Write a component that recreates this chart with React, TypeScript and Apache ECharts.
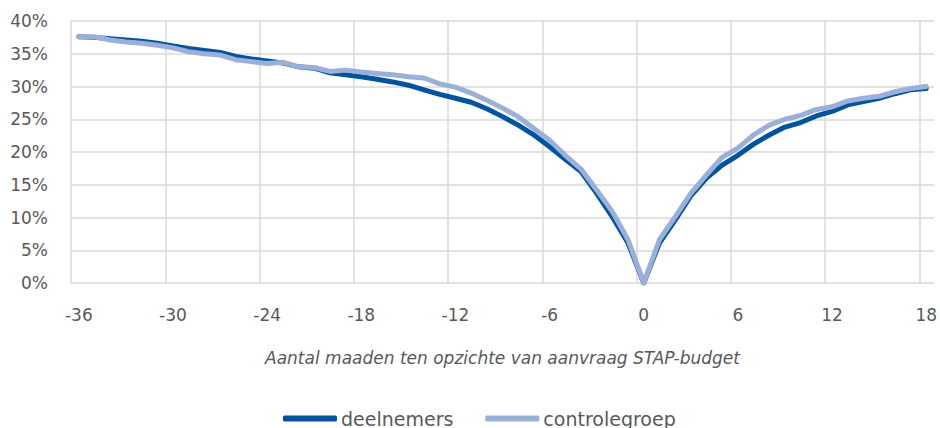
import React, { useEffect, useRef } from "react";
import * as echarts from "echarts";

const months: string[] = [];
for (let m = -36; m <= 18; m++) months.push(String(m));

const deelnemers = [
  37.6, 37.5, 37.3, 37.1, 36.9, 36.6, 36.2, 35.8, 35.5, 35.2, 34.6, 34.2, 33.9,
  33.6, 33.0, 32.8, 32.1, 31.8, 31.5, 31.1, 30.7, 30.2, 29.5, 28.8, 28.2, 27.6,
  26.6, 25.4, 24.1, 22.6, 20.8, 18.9, 17.0, 13.7, 10.1, 6.1, 0, 6.1, 9.6, 13.3,
  16.0, 18.0, 19.5, 21.2, 22.6, 23.8, 24.5, 25.5, 26.2, 27.2, 27.7, 28.2, 28.9,
  29.5, 29.7,
];

const controlegroep = [
  37.6, 37.6, 37.1, 36.8, 36.6, 36.3, 35.9, 35.3, 35.0, 34.8, 34.1, 33.8, 33.5,
  33.7, 33.0, 32.9, 32.3, 32.5, 32.2, 32.0, 31.8, 31.5, 31.3, 30.4, 29.9, 29.0,
  27.9, 26.7, 25.4, 23.6, 21.8, 19.5, 17.4, 14.2, 10.9, 6.6, 0, 6.6, 10.1, 13.7,
  16.5, 19.2, 20.6, 22.6, 24.1, 25.0, 25.6, 26.5, 26.9, 27.8, 28.2, 28.5, 29.2,
  29.7, 30.0,
];

const seriesNames = ["deelnemers", "controlegroep"];
const xTitle = "Aantal maaden ten opzichte van aanvraag STAP-budget";

const FONT = "DejaVu Sans";
const TEXT = "#595959";
const GRID = "#d9d9d9";
const DARK = "#00549f";
const LIGHT = "#9bb0d9";

const W = 940;
const H = 428;
const LEFT = 71;
const RIGHT = 5;
const TOP = 21;
const PLOT_H = 262;

export default function App() {
  const ref = useRef<HTMLDivElement>(null);
  useEffect(() => {
    if (!ref.current) return;
    const chart = echarts.init(ref.current, undefined, { renderer: "svg" });
    const plotW = W - LEFT - RIGHT;
    const n = months.length;
    chart.setOption({
      animation: false,
      grid: [
        { left: LEFT, top: TOP, width: plotW, height: PLOT_H },
        { left: LEFT, top: TOP, width: (plotW * (n - 1)) / n, height: PLOT_H },
      ],
      legend: {
        left: 283,
        top: 409,
        padding: 0,
        icon: "roundRect",
        itemWidth: 54,
        itemHeight: 6,
        itemGap: 32,
        data: seriesNames,
        textStyle: {
          fontFamily: FONT,
          fontSize: 19,
          lineHeight: 19,
          color: TEXT,
          padding: [0, 0, 0, -1],
        },
      },
      xAxis: [
        {
          type: "category",
          gridIndex: 0,
          data: months,
          boundaryGap: true,
          axisLine: { show: false },
          axisTick: { show: false },
          splitLine: { show: false },
          axisLabel: {
            interval: 5,
            margin: 23,
            color: TEXT,
            fontFamily: FONT,
            fontSize: 17,
          },
          name: xTitle,
          nameLocation: "middle",
          nameGap: 66,
          nameTextStyle: {
            fontFamily: FONT,
            fontSize: 17,
            fontStyle: "italic",
            color: TEXT,
          },
        },
        {
          type: "value",
          gridIndex: 1,
          min: 0,
          max: n - 1,
          interval: 6,
          axisLine: { show: false },
          axisTick: { show: false },
          axisLabel: { show: false },
          splitLine: { show: true, lineStyle: { color: GRID, width: 1.5 } },
        },
      ],
      yAxis: [
        {
          type: "value",
          gridIndex: 0,
          min: 0,
          max: 40,
          interval: 5,
          axisLine: { show: false },
          axisTick: { show: false },
          splitLine: { show: true, lineStyle: { color: GRID, width: 1.5 } },
          axisLabel: {
            formatter: "{value}%",
            margin: 23,
            color: TEXT,
            fontFamily: FONT,
            fontSize: 17,
          },
        },
        { type: "value", gridIndex: 1, min: 0, max: 1, show: false },
      ],
      series: [
        {
          name: seriesNames[0],
          type: "line",
          xAxisIndex: 0,
          yAxisIndex: 0,
          data: deelnemers,
          symbol: "none",
          showSymbol: false,
          color: DARK,
          lineStyle: { color: DARK, width: 5, cap: "round", join: "round" },
        },
        {
          name: seriesNames[1],
          type: "line",
          xAxisIndex: 0,
          yAxisIndex: 0,
          data: controlegroep,
          symbol: "none",
          showSymbol: false,
          color: LIGHT,
          lineStyle: { color: LIGHT, width: 5, cap: "round", join: "round" },
        },
      ],
    });
    return () => chart.dispose();
  }, []);
  return (
    <div
      ref={ref}
      style={{ position: "fixed", left: 0, top: 0, width: W, height: H, background: "#fff" }}
    />
  );
}
